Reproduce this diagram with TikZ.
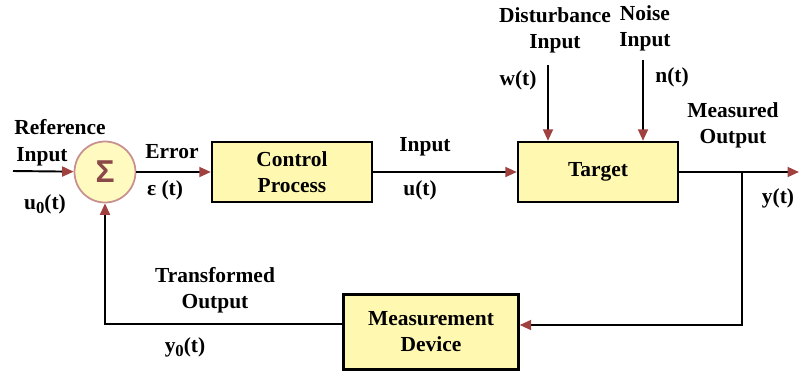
\documentclass[tikz,border=0pt]{standalone}
\usepackage{fontspec}
\setmainfont{Liberation Serif}
\newfontfamily\sigmafont{Liberation Sans}
\usetikzlibrary{positioning,arrows.meta}
\definecolor{boxfill}{HTML}{FFF8B0}
\definecolor{sumfill}{HTML}{FFFAC0}
\definecolor{sumline}{HTML}{C89090}
\definecolor{tipred}{HTML}{A0403F}
\definecolor{sigred}{HTML}{8A4848}
\newcommand{\lowsub}[1]{\raisebox{-0.45ex}{\fontsize{9.5}{9.5}\selectfont #1}}

\begin{document}
\begin{tikzpicture}[x=0.02cm, y=-0.02cm,
  every node/.style={font=\fontsize{12.2}{14.8}\selectfont\bfseries},
  blk/.style={draw, line width=1.4pt, fill=boxfill, align=center, minimum width=3.2cm, minimum height=1.2cm},
  lbl/.style={align=center, inner sep=0pt},
  arr/.style={-{Triangle[length=2.3mm, width=2mm, color=tipred]}, line width=1.1pt}]
\useasboundingbox (0,0) rectangle (799,373);
% blocks
\node[circle, draw=sumline, line width=1pt, fill=sumfill, minimum size=1.22cm, inner sep=0pt,
  font=\sigmafont\fontsize{18}{18}\selectfont\bfseries, text=sigred] (sum) at (105,172) {Σ};
\node[blk] (ctrl) at (292,172) {Control\\Process};
\node[blk] (tgt) at (598,172) {Target};
\node[blk, minimum width=3.5cm, minimum height=1.5cm] (meas) at (431,332) {Measurement\\Device};
% free ends
\coordinate (ref) at (13,171);
\coordinate (dist) at (548,65);
\coordinate (noise) at (643,60);
\coordinate (jn) at (742,172);
\coordinate (out) at (799,172);
% connectors
\draw[arr] (ref) -- (sum);
\draw[arr] (sum) -- (ctrl);
\draw[arr] (ctrl) -- (tgt);
\draw[arr] (dist) -- (dist |- tgt.north);
\draw[arr] (noise) -- (noise |- tgt.north);
\draw[arr] (tgt) -- (out);
\draw[arr] (jn) |- ([yshift=0.14cm]meas.east);
\draw[arr] ([yshift=0.16cm]meas.west) -| (sum.south);
% labels
\node[lbl] (lref) at (60,127) {Reference};
\node[lbl] (lrefin) at (42,157) {Input};
\node[lbl] (lu0) at (45,204) {u\lowsub{0}(t)};
\node[lbl] (lerr) at (172,152) {Error};
\node[lbl] (leps) at (165,190) {ε (t)};
\node[lbl] (lin) at (425,147) {Input};
\node[lbl] (lu) at (420,190) {u(t)};
\node[lbl] (ldist) at (555,30) {Disturbance\\Input};
\node[lbl] (lw) at (518,80) {w(t)};
\node[lbl] (lnoise) at (645,28) {Noise\\Input};
\node[lbl] (ln) at (672,77) {n(t)};
\node[lbl] (lmeas) at (733,125) {Measured\\Output};
\node[lbl] (ly) at (778,198) {y(t)};
\node[lbl] (ltrans) at (215,290) {Transformed\\Output};
\node[lbl] (ly0) at (185,347) {y\lowsub{0}(t)};
\end{tikzpicture}
\end{document}
